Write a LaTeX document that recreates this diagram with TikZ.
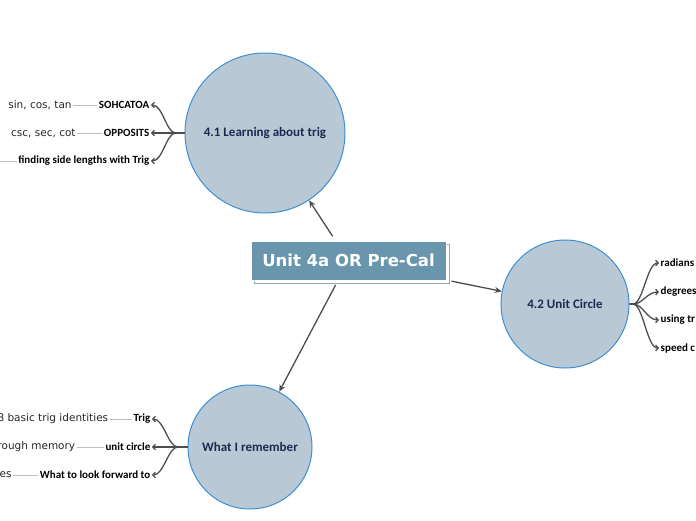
\documentclass[tikz,border=0pt]{standalone}
\usepackage{fontspec}
\setmainfont{Carlito}
\newfontfamily\verdfont{DejaVu Sans}
\usetikzlibrary{arrows.meta,positioning,shadows}
\definecolor{mmcircle}{HTML}{B8C9D5}
\definecolor{mmedge}{HTML}{3D8FD1}
\definecolor{mmtitle}{HTML}{6996AD}
\definecolor{mmnavy}{HTML}{1B2A4E}
\definecolor{mmarrow}{HTML}{4D4D4D}
\definecolor{mmthin}{HTML}{BDBDBD}

\begin{document}
\begin{tikzpicture}[x=1pt, y=-1pt,
  topic/.style={circle, draw=mmedge, line width=1pt, fill=mmcircle, text=mmnavy,
    font=\bfseries\fontsize{13}{15}\selectfont, inner sep=0pt},
  titlebox/.style={draw=white, line width=1pt, fill=mmtitle, text=white,
    font=\verdfont\bfseries\fontsize{16.5}{18}\selectfont,
    minimum width=195pt, minimum height=39pt,
    copy shadow={shadow xshift=3pt, shadow yshift=-3pt, fill=white, draw=mmtitle!80, line width=0.8pt}},
  sublabel/.style={font=\bfseries\fontsize{11}{13}\selectfont, inner sep=1.5pt},
  leaf/.style={font=\verdfont\fontsize{10.5}{12}\selectfont, text=black!85, inner sep=1.5pt},
  mainlink/.style={draw=mmarrow, line width=1.3pt, shorten <=5pt, -{Stealth[length=7pt, width=6pt]}},
  branch/.style={draw=mmarrow, line width=1.3pt, -{Straight Barb[length=2.5pt, width=5.5pt]}},
  leafline/.style={draw=mmthin, line width=0.8pt}
]
  \clip (0,0) rectangle (696,520);

  % centre and the three topics
  \node[titlebox] (unit) at (348.5,260.5) {Unit 4a OR Pre-Cal};
  \node[topic, minimum size=160pt] (trig) at (265,133) {4.1 Learning about trig};
  \node[topic, minimum size=128pt] (circ) at (565,304) {4.2 Unit Circle};
  \node[topic, minimum size=124pt] (mem) at (250,447) {What I remember};

  \draw[mainlink] (unit) -- (trig);
  \draw[mainlink] (unit) -- (circ);
  \draw[mainlink] (unit) -- (mem);

  % 4.1 branches
  \coordinate (jtrig) at (176,133);
  \node[sublabel, anchor=east] (soh) at (151,105) {SOHCATOA};
  \node[sublabel, anchor=east] (opp) at (151,133) {OPPOSITS};
  \node[sublabel, anchor=east] (side) at (151,161) {finding side lengths with Trig};
  \foreach \n in {soh,opp,side}
    \draw[branch] (trig.west) -- (jtrig) .. controls +(-10,0) and +(12,0) .. (\n.east);

  \node[leaf, left=24pt of soh] (sct) {sin, cos, tan};
  \node[leaf, left=25pt of opp] (csc) {csc, sec, cot};
  \coordinate (sideend) at (-20,161);
  \draw[leafline] (sct) -- (soh);
  \draw[leafline] (csc) -- (opp);
  \draw[leafline] (sideend) -- (side);

  % 4.2 branches
  \coordinate (jcirc) at (633,304);
  \node[sublabel, anchor=west] (rad) at (659,263) {radians};
  \node[sublabel, anchor=west] (deg) at (659,292) {degrees};
  \node[sublabel, anchor=west] (using) at (659,320) {using tr};
  \node[sublabel, anchor=west] (speed) at (659,348) {speed c};
  \foreach \n in {rad,deg,using,speed}
    \draw[branch] (circ.east) -- (jcirc) .. controls +(10,0) and +(-12,0) .. (\n.west);

  % remember branches
  \coordinate (jmem) at (178,447);
  \node[sublabel, anchor=east] (trg) at (152,419) {Trig};
  \node[sublabel, anchor=east] (uc) at (152,447) {unit circle};
  \node[sublabel, anchor=east] (fwd) at (152,475) {What to look forward to};
  \foreach \n in {trg,uc,fwd}
    \draw[branch] (mem.west) -- (jmem) .. controls +(-10,0) and +(12,0) .. (\n.east);

  \node[leaf, left=22pt of trg] (ident) {8 basic trig identities};
  \node[leaf, left=27pt of uc] (memory) {through memory};
  \node[leaf, left=25pt of fwd] (es) {es};
  \draw[leafline] (ident) -- (trg);
  \draw[leafline] (memory) -- (uc);
  \draw[leafline] (es) -- (fwd);
\end{tikzpicture}
\end{document}
